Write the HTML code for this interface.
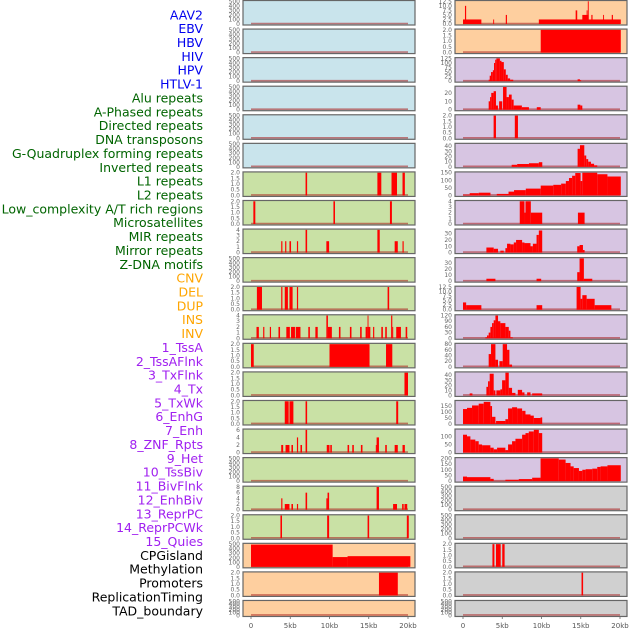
<!DOCTYPE html>
<html><head><meta charset="utf-8"><style>
html,body{margin:0;padding:0;background:#fff;}
svg{display:block;font-family:"DejaVu Sans","Liberation Sans",sans-serif;}
</style></head><body>
<svg id="chart" width="630" height="630" viewBox="0 0 630 630"></svg>
<script>
const labels=["AAV2","EBV","HBV","HIV","HPV","HTLV-1","Alu repeats","A-Phased repeats","Directed repeats","DNA transposons","G-Quadruplex forming repeats","Inverted repeats","L1 repeats","L2 repeats","Low_complexity A/T rich regions","Microsatellites","MIR repeats","Mirror repeats","Z-DNA motifs","CNV","DEL","DUP","INS","INV","1_TssA","2_TssAFlnk","3_TxFlnk","4_Tx","5_TxWk","6_EnhG","7_Enh","8_ZNF_Rpts","9_Het","10_TssBiv","11_BivFlnk","12_EnhBiv","13_ReprPC","14_ReprPCWk","15_Quies","CPGisland","Methylation","Promoters","ReplicationTiming","TAD_boundary"];
const labelColors=["#0000ee","#0000ee","#0000ee","#0000ee","#0000ee","#0000ee","#006400","#006400","#006400","#006400","#006400","#006400","#006400","#006400","#006400","#006400","#006400","#006400","#006400","#ffa500","#ffa500","#ffa500","#ffa500","#ffa500","#a020f0","#a020f0","#a020f0","#a020f0","#a020f0","#a020f0","#a020f0","#a020f0","#a020f0","#a020f0","#a020f0","#a020f0","#a020f0","#a020f0","#a020f0","#000","#000","#000","#000","#000"];
const xTicks=[0,5,10,15,20];
const xTickLabels=["0","5kb","10kb","15kb","20kb"];
const T500=[0,100,200,300,400,500], T2=[0,0.5,1,1.5,2], T4=[0,1,2,3,4], T125=[0,2.5,5,7.5,10,12.5];
const L6=[[6.95,7.15,2],[16.1,16.6,2],[17.9,18.6,2],[19.3,19.6,2]];
const L7=[[0.3,0.55,2],[10.5,10.7,2],[17.7,17.95,2]];
const L8=[[3.85,4.0,2],[4.35,4.5,2],[4.9,5.1,2],[5.85,6.0,2],[6.95,7.15,4],[9.6,9.95,2],[16.1,16.4,4],[18.3,18.7,2],[19.3,19.45,2]];
const L10=[[0.75,1.4,2],[3.85,4.0,2],[4.3,4.7,2],[4.9,5.3,2],[5.85,6.0,2],[17.4,17.6,2]];
const L11=[[0.7,1.0,2],[1.55,1.7,2],[2.4,2.55,2],[3.5,3.7,2],[4.5,4.95,2],[5.1,5.6,2],[5.7,6.3,2],[7.3,7.5,2],[8.2,8.5,2],[9.6,9.8,4],[9.8,10.3,2],[11.2,11.4,2],[12.6,12.8,2],[13.9,14.1,2],[14.6,14.85,2],[14.85,14.95,4],[14.95,15.2,2],[15.55,15.7,2],[16.6,16.8,2],[17.1,17.3,2],[17.85,18.0,4],[18.0,18.1,2],[18.5,19.1,2],[19.7,19.9,2]];
const L12=[[0.0,0.35,2],[10.0,15.1,2],[17.2,18.0,2]];
const L13=[[19.55,20.0,2]];
const L14=[[4.3,4.8,2],[4.9,5.4,2],[6.95,7.15,2],[18.5,18.75,2]];
const L15=[[3.85,4.1,2],[4.4,4.9,2],[5.15,5.35,2],[5.85,6.0,4],[6.3,6.5,2],[6.95,7.15,6],[9.65,10.0,2],[10.1,10.3,2],[12.3,12.5,2],[12.9,13.1,2],[14.0,14.2,2],[15.9,16.0,2],[16.0,16.3,4],[17.1,17.3,2],[18.3,18.7,2],[19.3,19.6,2]];
const L17=[[3.85,4.0,4],[4.3,4.9,2],[5.15,5.35,2],[5.85,6.0,2],[6.95,7.15,6],[9.6,9.75,4],[9.75,9.95,6],[16.0,16.3,8],[18.1,18.6,2],[19.25,19.45,2],[19.55,19.9,2]];
const L18=[[3.75,3.95,2],[9.7,9.95,2],[14.85,15.05,2],[19.85,20.1,2]];
const L19=[[0,10.4,490],[10.4,12.3,215],[12.3,20.3,235]];
const L20=[[16.3,18.7,2]];
const R0=[[0,2.34,2.5],[0.25,0.4,10],[3.85,3.95,2.5],[5.45,5.6,5],[9.66,20.1,2.5],[14.35,14.55,7.5],[15.2,16.0,5],[15.75,15.85,7.5],[15.9,16.0,12.5],[16.35,16.5,5],[17.85,17.95,5],[18.95,19.1,5]];
const R1=[[9.9,20.1,2]];
const R2=[[3.27,3.4,8],[3.4,3.57,30],[3.57,3.8,50],[3.8,3.95,60],[3.95,4.1,100],[4.1,4.25,118],[4.25,4.7,125],[4.7,4.9,112],[4.9,5.2,105],[5.2,5.45,65],[5.45,5.7,35],[5.7,6.0,15],[6.0,6.4,8],[14.6,14.9,10],[14.9,15.05,5]];
const R3=[[3.27,3.45,10],[3.45,3.6,15],[3.6,3.9,20],[3.9,4.2,22],[4.2,4.45,5],[4.6,5.0,10],[5.1,5.55,27],[5.55,5.85,15],[5.85,6.2,18],[6.2,6.45,12],[6.45,7.5,5],[7.5,8.4,3],[9.4,9.9,3],[14.6,14.95,6],[14.95,15.2,5]];
const R4=[[3.9,4.2,2],[6.6,7.0,2]];
const R5=[[6.2,6.9,4],[6.9,8.4,5.5],[8.4,9.66,7],[9.66,10.1,9],[14.6,14.9,35],[14.9,15.45,42],[15.45,15.7,22],[15.7,15.95,15],[15.95,16.3,10],[16.3,16.7,6],[16.7,17.1,3]];
const R6=[[0,0.85,5],[0.85,2.0,15],[2.0,3.5,18],[4.3,5.8,10],[5.8,6.5,25],[6.5,8.0,35],[8.0,9.9,45],[9.9,11.5,65],[11.5,12.5,70],[12.5,13.1,78],[13.1,13.5,95],[13.5,13.9,115],[13.9,14.3,130],[14.3,14.98,148],[14.98,15.2,95],[15.2,17.1,150],[17.1,18.4,140],[18.4,20.1,125]];
const R7=[[7.23,7.83,4],[7.83,7.96,2],[7.96,8.64,4],[8.64,10.09,2],[14.64,15.49,2]];
const R8=[[2.98,3.91,8],[3.91,4.46,6],[4.76,5.19,3],[5.4,5.61,7],[5.61,6.04,14],[6.04,6.47,13],[6.47,6.76,16],[6.76,7.53,20],[7.53,7.83,16],[7.83,8.6,15],[8.6,8.9,10],[8.9,9.37,14],[9.37,9.66,28],[9.66,10.09,35],[14.55,14.85,10],[14.85,15.28,12],[15.28,15.49,4]];
const R9=[[2.98,4.13,4],[9.37,9.96,4],[14.55,14.85,15],[14.85,15.4,38],[15.4,16.47,4]];
const R10=[[0,0.4,4],[0.4,2.34,2.5],[9.37,10.09,2.5],[14.47,14.98,12.5],[14.98,15.2,6],[15.2,15.75,8],[15.75,16.77,6],[16.77,18.9,2.5]];
const R11=[[2.85,3.06,5],[3.06,3.27,15],[3.27,3.49,30],[3.49,3.7,60],[3.7,3.91,80],[3.91,4.13,95],[4.13,4.46,120],[4.46,4.76,90],[4.76,5.4,80],[5.4,5.83,60],[5.83,6.04,40],[6.04,6.34,5]];
const R12=[[3.27,3.57,45],[3.57,4.13,80],[4.13,4.46,25],[4.64,5.06,20],[5.06,5.61,80],[5.61,5.91,60],[5.91,6.25,8]];
const R13=[[0.85,1.2,4],[2.98,3.19,17],[3.19,3.4,28],[3.4,3.91,43],[3.91,4.13,10],[4.25,4.76,10],[4.76,4.98,12],[4.98,5.4,30],[5.4,5.83,45],[5.83,6.25,15],[6.25,6.68,5],[6.98,7.53,11],[7.53,7.83,6],[8.17,8.6,6],[8.81,10.09,4]];
const R14=[[0,0.51,125],[0.51,1.15,135],[1.15,2.0,155],[2.0,2.64,170],[2.64,3.49,185],[3.49,3.7,150],[3.7,4.13,60],[4.13,4.21,5],[4.21,5.4,25],[5.4,5.74,40],[5.74,6.25,130],[6.25,6.89,140],[6.89,7.53,130],[7.53,7.96,110],[7.96,8.6,80],[8.6,9.02,70],[9.02,9.88,50],[9.88,10.09,55]];
const R15=[[0,0.51,110],[0.51,0.94,100],[0.94,1.57,80],[1.57,2.0,70],[2.0,2.43,50],[2.43,3.49,45],[3.49,3.91,30],[3.91,4.34,20],[4.34,5.4,30],[5.4,5.74,15],[5.74,6.25,50],[6.25,6.68,70],[6.68,7.53,85],[7.53,7.96,110],[7.96,8.38,120],[8.38,9.02,130],[9.02,9.66,140],[9.66,10.09,120]];
const R16=[[0,0.51,40],[0.51,3.49,35],[3.49,3.91,20],[3.91,5.4,2],[5.4,7.1,12],[7.1,8.81,18],[8.81,9.88,30],[9.88,12.2,200],[12.2,13.07,190],[13.07,13.7,160],[13.7,14.1,130],[14.1,14.77,115],[14.77,15.2,90],[15.2,15.62,100],[15.62,16.47,105],[16.47,17.1,110],[17.1,17.53,125],[17.53,18.4,130],[18.4,20.1,140]];
const R19=[[3.75,4.0,2],[4.2,4.8,2],[5.0,5.3,2]];
const R20=[[15.1,15.3,2]];

const leftSegs=[[],[],[],[],[],[],L6,L7,L8,[],L10,L11,L12,L13,L14,L15,[],L17,L18,L19,L20,[]];
const leftMax=[500,500,500,500,500,500,2,2,4,500,2,4,2,2,2,6,500,8,2,500,2,500];
const leftTicks=[T500,T500,T500,T500,T500,T500,T2,T2,T4,T500,T2,T4,T2,T2,T2,[0,2,4,6],T500,[0,2,4,6,8],T2,T500,T2,T500];
const leftBg=["#c9e4ec","#c9e4ec","#c9e4ec","#c9e4ec","#c9e4ec","#c9e4ec","#c9e1a5","#c9e1a5","#c9e1a5","#c9e1a5","#c9e1a5","#c9e1a5","#c9e1a5","#c9e1a5","#c9e1a5","#c9e1a5","#c9e1a5","#c9e1a5","#c9e1a5","#fecf9f","#fecf9f","#fecf9f"];
const rightSegs=[R0,R1,R2,R3,R4,R5,R6,R7,R8,R9,R10,R11,R12,R13,R14,R15,R16,[],[],R19,R20,[]];
const rightMax=[12.5,2,125,27,2,44,150,4,36,38,12.5,120,80,45,190,140,200,500,500,2,2,500];
const rightTicks=[T125,T2,[0,25,50,75,100,125],[0,10,20],T2,[0,10,20,30,40],[0,50,100,150],T4,[0,10,20,30],[0,10,20,30],T125,[0,30,60,90,120],[0,20,40,60,80],[0,10,20,30,40],[0,50,100,150],[0,50,100],[0,50,100,150,200],T500,T500,T2,T2,T500];
const rightBg=["#fecf9f","#fecf9f","#d7c5e2","#d7c5e2","#d7c5e2","#d7c5e2","#d7c5e2","#d7c5e2","#d7c5e2","#d7c5e2","#d7c5e2","#d7c5e2","#d7c5e2","#d7c5e2","#d7c5e2","#d7c5e2","#d7c5e2","#d0d0d0","#d0d0d0","#d0d0d0","#d0d0d0","#d0d0d0"];

const NS="http://www.w3.org/2000/svg";
const svg=document.getElementById('chart');
function mk(tag,attrs,parent){const e=document.createElementNS(NS,tag);for(const k in attrs)e.setAttribute(k,attrs[k]);(parent||svg).appendChild(e);return e;}
function fmt(v,ticks){const dec=ticks.some(t=>t%1!==0)||ticks[ticks.length-1]<=2;return dec?v.toFixed(1):String(v);}

labels.forEach((t,j)=>{
  const e=mk('text',{x:203,y:15+13.86*j+4.3,'text-anchor':'end','font-size':12.5,fill:labelColors[j]});
  
  
  e.textContent=t;
});

function panel(col,i,segs,ymax,ticks,bg){
  const x0=col?455:243, w=172;
  const top=i*28.57+0.5, h=(i===21)?16:24.5;
  const xs=kb=>x0+8+kb*7.85;
  const yb=top+h-1, yt=top+0.8;
  const ys=v=>yb-(Math.min(v,ymax)/ymax)*(yb-yt);
  const g=mk('g',{});
  
  
  const r=mk('rect',{x:x0,y:top,width:w,height:h,fill:bg,stroke:'#666','stroke-width':1.2},g);
  
  
  mk('line',{x1:xs(0),x2:xs(20),y1:yb-0.5,y2:yb-0.5,stroke:'rgba(170,30,30,0.55)','stroke-width':1.6},g);
  segs.forEach(s=>{
    const b=mk('rect',{x:xs(s[0]),y:ys(s[2]),width:Math.max(0.9,xs(s[1])-xs(s[0])),height:yb-ys(s[2]),fill:'#ff0000'},g);
    
    
  });
  ticks.forEach(t=>{
    const tx=mk('text',{x:x0-3,y:ys(t)+2,'text-anchor':'end','font-size':6,fill:'#666'},g);
    
    
    tx.textContent=fmt(t,ticks);
  });
}
for(let i=0;i<22;i++){
  panel(0,i,leftSegs[i],leftMax[i],leftTicks[i],leftBg[i]);
  panel(1,i,rightSegs[i],rightMax[i],rightTicks[i],rightBg[i]);
}
[243,455].forEach(x0=>{
  xTicks.forEach((k,n)=>{
    const x=x0+8+k*7.85;
    mk('line',{x1:x,x2:x,y1:616.5,y2:619,stroke:'#666','stroke-width':0.8});
    const t=mk('text',{x:x,y:628,'text-anchor':'middle','font-size':7,fill:'#555'});
    
    
    t.textContent=xTickLabels[n];
  });
});
</script>
</body></html>
